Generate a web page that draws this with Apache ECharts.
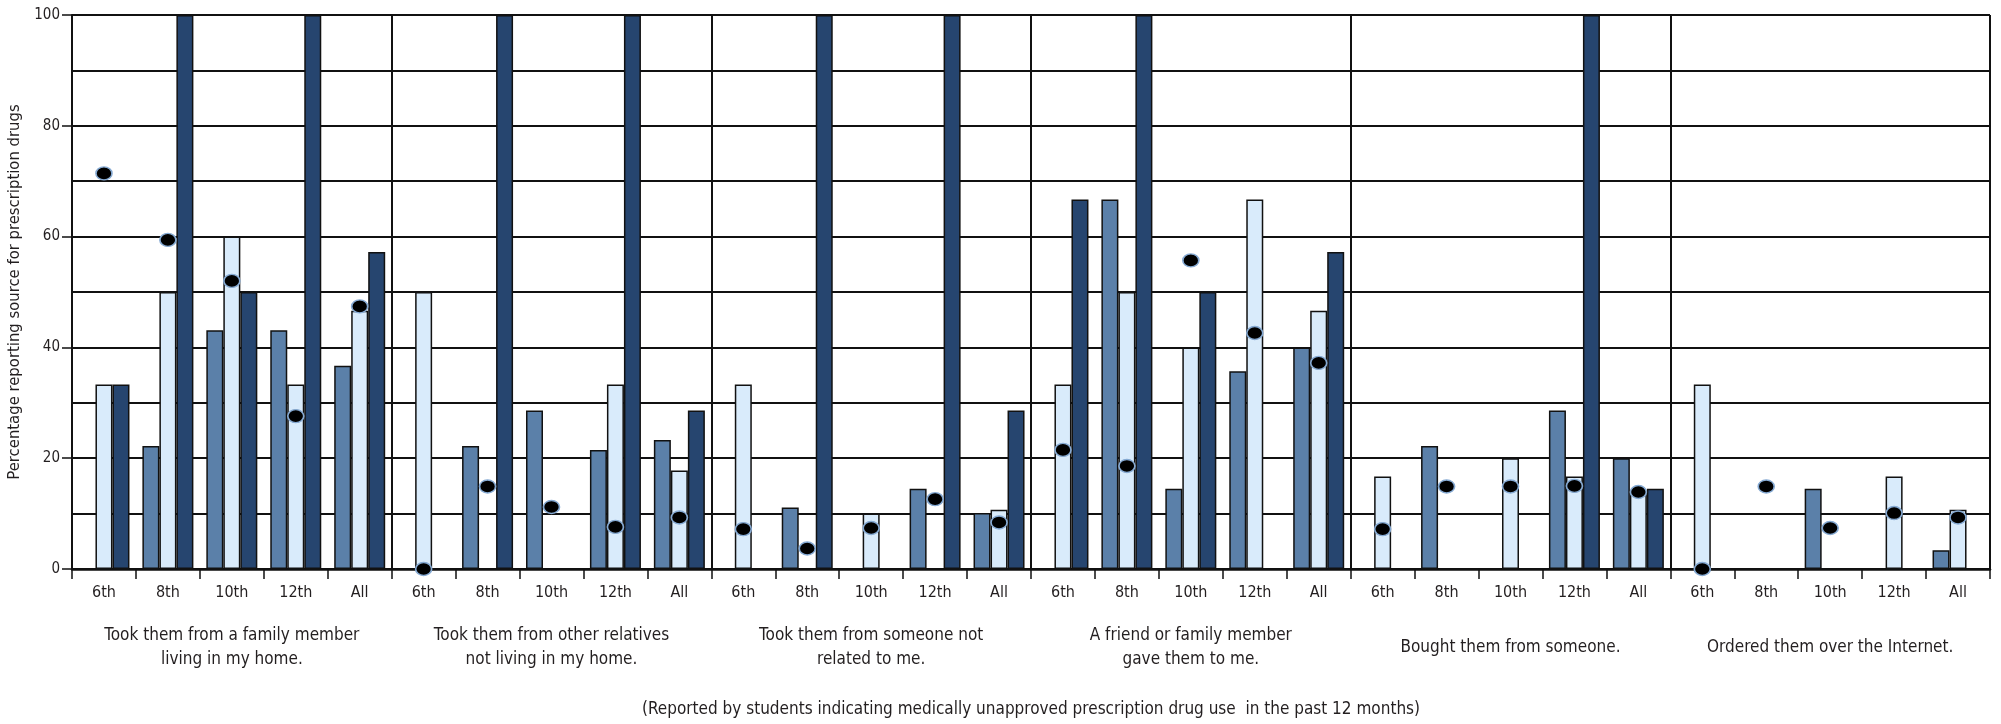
<!DOCTYPE html>
<html>
<head>
<meta charset="utf-8">
<script src="https://cdn.jsdelivr.net/npm/echarts@6/dist/echarts.min.js"></script>
<style>html,body{margin:0;padding:0;background:#fff}#c{width:2001px;height:724px}</style>
</head>
<body>
<div id="c"></div>
<script>
const grades = ['6th', '8th', '10th', '12th', 'All'];
const groups = [
  'Took them from a family member\nliving in my home.',
  'Took them from other relatives\nnot living in my home.',
  'Took them from someone not\nrelated to me.',
  'A friend or family member\ngave them to me.',
  'Bought them from someone.',
  'Ordered them over the Internet.'
];
// bar series (left / middle / right bar in each grade), grouped by source
const seriesA = [
  null, 22.2, 43.1, 43.1, 36.7,
  null, 22.2, 28.6, 21.5, 23.3,
  null, 11.1, null, 14.5, 10.1,
  null, 66.7, 14.5, 35.7, 40.0,
  null, 22.2, null, 28.6, 20.0,
  null, null, 14.5, null, 3.4
];
const seriesB = [
  33.3, 50.0, 60.0, 33.3, 46.6,
  50.0, null, null, 33.3, 17.8,
  33.3, null, 10.0, null, 10.7,
  33.3, 50.0, 40.0, 66.7, 46.6,
  16.7, null, 20.0, 16.7, 14.0,
  33.3, null, null, 16.7, 10.7
];
const seriesC = [
  33.3, 100, 50.0, 100, 57.2,
  null, 100, null, 100, 28.6,
  null, 100, null, 100, 28.6,
  66.7, 100, 50.0, null, 57.2,
  null, null, null, 100, 14.5,
  null, null, null, null, null
];
const dots = [
  71.4, 59.4, 52.0, 27.6, 47.4,
  0, 14.9, 11.2, 7.6, 9.3,
  7.2, 3.7, 7.4, 12.6, 8.4,
  21.5, 18.6, 55.7, 42.6, 37.2,
  7.2, 14.9, 14.9, 15.0, 13.9,
  0, 14.9, 7.4, 10.1, 9.3
];
const yTicks = [0, 20, 40, 60, 80, 100];
const footnote = '(Reported by students indicating medically unapproved prescription drug use  in the past 12 months)';

const FONT = '"DejaVu Sans Condensed", "Liberation Sans Narrow", sans-serif';
const INK = '#231f20';
const categories = [];
groups.forEach(() => grades.forEach(g => categories.push(g)));

const chart = echarts.init(document.getElementById('c'), null, {renderer: 'canvas'});
const barStyle = (color) => ({color: color, borderColor: '#111', borderWidth: 1.5});
chart.setOption({
  animation: false,
  backgroundColor: '#fff',
  grid: {left: 72, right: 11, top: 15, bottom: 155, containLabel: false, outerBoundsMode: 'none'},
  xAxis: [
    {
      type: 'category', data: categories, position: 'bottom',
      axisLine: {show: true, lineStyle: {color: '#111', width: 2.5}},
      axisTick: {show: true, alignWithLabel: false, interval: 0, length: 10, lineStyle: {color: '#111', width: 1.5}},
      axisLabel: {interval: 0, margin: 16, fontFamily: FONT, fontSize: 16, color: INK},
      splitLine: {show: false}
    },
    {
      type: 'category', data: groups, position: 'bottom',
      axisLine: {show: false}, axisTick: {show: false},
      axisLabel: {interval: 0, margin: 79, verticalAlign: 'middle', fontFamily: FONT, fontSize: 17, lineHeight: 24, color: INK, align: 'center'},
      splitLine: {show: true, interval: 0, lineStyle: {color: '#111', width: 2}}
    }
  ],
  yAxis: {
    type: 'value', min: 0, max: 100, interval: 20,
    name: 'Percentage reporting source for prescription drugs',
    nameLocation: 'middle', nameGap: 32,
    nameTextStyle: {fontFamily: FONT, fontSize: 16.5, color: INK},
    axisLine: {show: true, lineStyle: {color: '#111', width: 2}},
    axisTick: {show: true, length: 10, lineStyle: {color: '#111', width: 1.5}},
    axisLabel: {margin: 12, fontFamily: FONT, fontSize: 15, color: INK,
      formatter: v => yTicks.indexOf(v) >= 0 ? String(v) : ''},
    splitLine: {show: true, lineStyle: {color: '#111', width: 2}},
    minorTick: {show: false, splitNumber: 2},
    minorSplitLine: {show: true, lineStyle: {color: '#111', width: 2}}
  },
  series: [
    {type: 'bar', data: seriesA, barWidth: 17, barGap: '0%', itemStyle: barStyle('#5b80a9'), z: 2},
    {type: 'bar', data: seriesB, barWidth: 17, barGap: '0%', itemStyle: barStyle('#d9ebfb'), z: 2},
    {type: 'bar', data: seriesC, barWidth: 17, barGap: '0%', itemStyle: barStyle('#26456f'), z: 2},
    {type: 'scatter', data: dots, symbol: 'circle', symbolSize: [16, 13], clip: false, z: 10,
      itemStyle: {color: '#000', borderColor: '#86aad3', borderWidth: 1.5, opacity: 1}}
  ],
  graphic: [{
    type: 'text', x: 1031, y: 710,
    style: {text: footnote, font: '17px ' + FONT, fill: INK, align: 'center', verticalAlign: 'middle'}
  }]
});
</script>
</body>
</html>
